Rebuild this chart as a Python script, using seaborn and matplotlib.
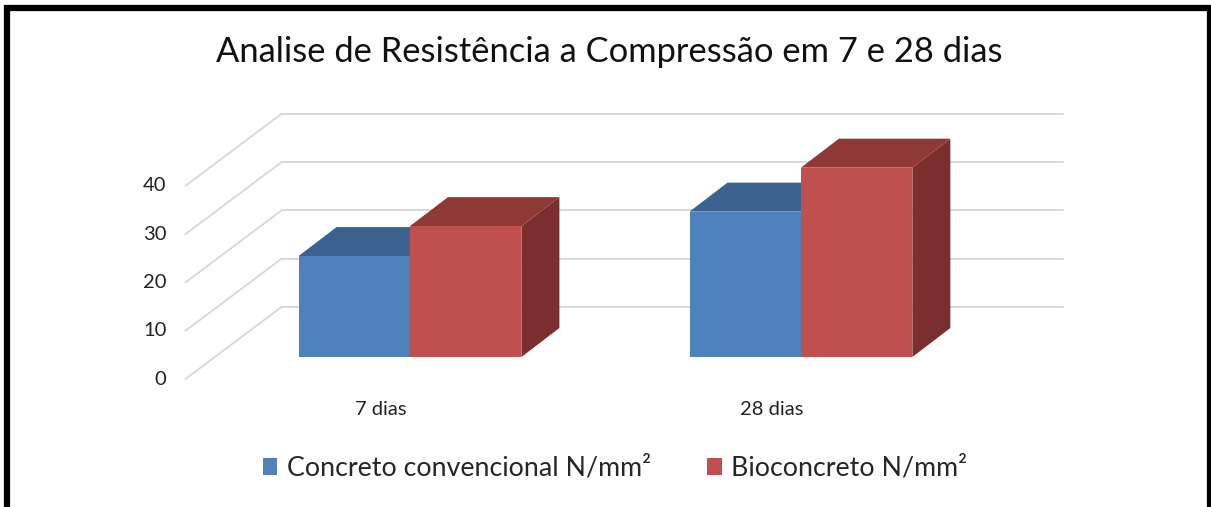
import pandas as pd
import matplotlib.pyplot as plt
import seaborn as sns
from matplotlib.patches import Polygon, Rectangle

# Chart data
dias = ["7 dias", "28 dias"]
series = ["Concreto convencional N/mm²", "Bioconcreto N/mm²"]
convencional = [20.9, 30.1]
bioconcreto = [27.1, 39.2]
y_ticks = [0, 10, 20, 30, 40]

colors = ["#4F81BD", "#C0504D"]
top_colors = ["#3C628F", "#8F3937"]
side_colors = ["#35577F", "#7A2F2E"]

df = pd.DataFrame({
    "dia": dias * 2,
    "tipo": [series[0]] * 2 + [series[1]] * 2,
    "valor": convencional + bioconcreto,
})

sns.set_style("white")
plt.rcParams["font.family"] = ["Lato", "DejaVu Sans"]

W, H = 1211, 507
fig = plt.figure(figsize=(W / 100, H / 100), dpi=100)
ax = fig.add_axes([150 / W, (H - 430) / H, 950 / W, 340 / H])

sns.barplot(
    data=df, x="dia", y="valor", hue="tipo", hue_order=series,
    palette=colors, width=0.57, saturation=1, linewidth=0, ax=ax
)
ax.set_xlim(-0.665, 1.765)
ax.set_ylim(-15.11, 55.28)
ax.axis("off")

# pixel -> data scale, used for the fake 3D depth
p0 = ax.transData.transform((0, 0))
p1 = ax.transData.transform((1, 1))
sx, sy = p1[0] - p0[0], p1[1] - p0[1]

def off(px, py):
    return px / sx, py / sy

fdx, fdy = off(-29, -22)   # front plane (axis labels)
bdx, bdy = off(67, 50)     # back wall
ddx, ddy = off(38, 29)     # bar depth

# back wall gridlines and side wall diagonals
lx, _ = off(-19, 0)
for v in y_ticks:
    ax.plot([-0.5 + bdx, 1.5 + bdx], [v + bdy, v + bdy], color="#D9D9D9", lw=1.4, zorder=1)
    ax.plot([-0.5 + fdx, -0.5 + bdx], [v + fdy, v + bdy], color="#D9D9D9", lw=1.4, zorder=1)
    ax.text(-0.5 + fdx + lx, v + fdy, str(v), ha="right", va="center", fontsize=14.5, color="#222222")

_, ly = off(0, -30)
for i, d in enumerate(dias):
    ax.text(i + fdx, fdy + ly, d, ha="center", va="center", fontsize=14.5, color="#222222")

# 3D faces for each bar
bars = [p for p in ax.patches if p.get_height() > 0]
for k, p in enumerate(bars):
    hue_i = k // len(dias)
    x0, w, h = p.get_x(), p.get_width(), p.get_height()
    z = 2 + hue_i
    p.set_zorder(z + 0.2)
    top = Polygon([(x0, h), (x0 + w, h), (x0 + w + ddx, h + ddy), (x0 + ddx, h + ddy)],
                  closed=True, facecolor=top_colors[hue_i], lw=0, zorder=z + 0.1)
    side = Polygon([(x0 + w, 0), (x0 + w + ddx, ddy), (x0 + w + ddx, h + ddy), (x0 + w, h)],
                   closed=True, facecolor=side_colors[hue_i], lw=0, zorder=z)
    ax.add_patch(top)
    ax.add_patch(side)

fig.text(609 / W, 1 - 52 / H, "Analise de Resistência a Compressão em 7 e 28 dias",
         ha="center", va="center", fontsize=24.8, color="#111111")

sns.move_legend(
    ax, "center", bbox_to_anchor=(615 / W, 1 - 468 / H), bbox_transform=fig.transFigure,
    ncol=2, frameon=False, title=None, fontsize=19.3, handlelength=0.55, handleheight=0.6,
    handletextpad=0.35, columnspacing=2.1
)

# outer frame
fig.patches.append(Rectangle((7 / W, -0.1), (1210 - 7) / W, (H - 8) / H + 0.1,
                             transform=fig.transFigure, fill=False, lw=4.5, edgecolor="black"))

fig.savefig("out.png", dpi=100)
